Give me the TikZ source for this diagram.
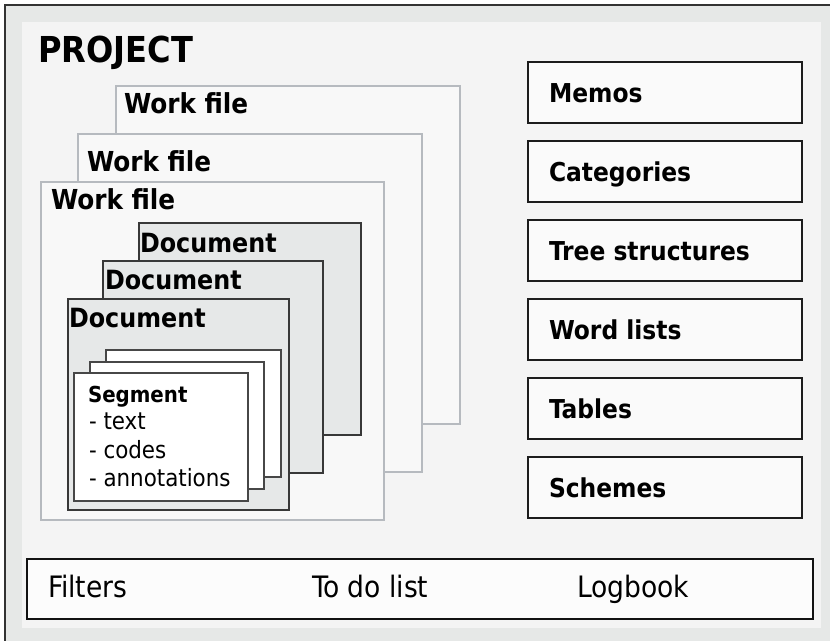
\documentclass[tikz,border=0pt]{standalone}
\usepackage{fontspec}
\setmainfont{DejaVu Sans Condensed}
\begin{document}
\begin{tikzpicture}[x=1pt,y=-1pt,
  box/.style={rectangle,outer sep=0pt,inner sep=0pt,anchor=north west},
  workbox/.style={box,draw=wfline,fill=wffill,line width=1.3pt,minimum width=344pt,minimum height=338pt},
  docbox/.style={box,draw=docline,fill=docfill,line width=1.3pt,minimum width=221pt,minimum height=212pt},
  segbox/.style={box,draw=segline,fill=white,line width=1.3pt,minimum width=175pt,minimum height=127pt},
  itembox/.style={box,draw=itemline,fill=itemfill,line width=1.8pt,minimum width=274pt,minimum height=61pt},
  lbl/.style={anchor=base west,inner sep=0pt,outer sep=0pt,text=black},
  projlbl/.style={lbl,font=\bfseries\fontsize{35.7}{40}\selectfont},
  wflbl/.style={lbl,font=\bfseries\fontsize{27.5}{30}\selectfont},
  doclbl/.style={lbl,font=\bfseries\fontsize{26.5}{30}\selectfont},
  seglbl/.style={lbl,font=\bfseries\fontsize{22}{26}\selectfont},
  seglist/.style={lbl,font=\fontsize{23.8}{26}\selectfont},
  itemlbl/.style={lbl,font=\bfseries\fontsize{26}{30}\selectfont},
  barlbl/.style={lbl,font=\fontsize{29.5}{32}\selectfont},
]
\definecolor{outerband}{HTML}{E6E8E7}
\definecolor{innerarea}{HTML}{F4F4F4}
\definecolor{frameline}{HTML}{333333}
\definecolor{wfline}{HTML}{B6BABF}
\definecolor{wffill}{HTML}{F8F8F8}
\definecolor{docline}{HTML}{383838}
\definecolor{docfill}{HTML}{E6E8E8}
\definecolor{segline}{HTML}{474747}
\definecolor{itemline}{HTML}{1C1C1C}
\definecolor{itemfill}{HTML}{FAFAFA}
\definecolor{barfill}{HTML}{FCFCFC}

\useasboundingbox (0,0) rectangle (830,640);
\clip (0,0) rectangle (830,640);

% project frame
\fill[white] (0,0) rectangle (830,640);
\draw[frameline,line width=1.5pt,fill=outerband] (5,5) rectangle (840,650);
\fill[innerarea] (22,22) rectangle (821,628);
\node[projlbl] (project) at (38,62) {PROJECT};

% work files
\node[workbox] (wf1) at (116,86) {};
\node[wflbl] (wf1t) at (124,113) {Work file};
\node[workbox] (wf2) at (78,134) {};
\node[wflbl] (wf2t) at (87,171) {Work file};
\node[workbox,minimum width=343pt] (wf3) at (41,182) {};
\node[wflbl] (wf3t) at (51,209) {Work file};

% documents
\node[docbox,minimum width=222pt] (doc1) at (139,223) {};
\node[doclbl] (doc1t) at (140,252) {Document};
\node[docbox,minimum width=220pt] (doc2) at (103,261) {};
\node[doclbl] (doc2t) at (105,289) {Document};
\node[docbox,minimum height=211pt] (doc3) at (68,299) {};
\node[doclbl] (doc3t) at (69,327) {Document};

% segments
\node[segbox] (seg1) at (106,350) {};
\node[segbox,minimum width=174pt] (seg2) at (90,362) {};
\node[segbox,minimum width=174pt,minimum height=128pt] (seg3) at (74,373) {};
\node[seglbl] (segt) at (88,402) {Segment};
\node[seglist] (segl1) at (89,429) {- text};
\node[seglist] (segl2) at (89,458) {- codes};
\node[seglist] (segl3) at (89,486) {- annotations};

% project items
\node[itembox] (memos) at (528,62) {};
\node[itemlbl] (memost) at (549,102) {Memos};
\node[itembox] (cats) at (528,141) {};
\node[itemlbl] (catst) at (549,181) {Categories};
\node[itembox] (trees) at (528,220) {};
\node[itemlbl] (treest) at (549,260) {Tree structures};
\node[itembox] (words) at (528,299) {};
\node[itemlbl] (wordst) at (549,339) {Word lists};
\node[itembox] (tables) at (528,378) {};
\node[itemlbl] (tablest) at (549,418) {Tables};
\node[itembox] (schemes) at (528,457) {};
\node[itemlbl] (schemest) at (549,497) {Schemes};

% tool bar
\node[box,draw=black!93,fill=barfill,line width=2pt,minimum width=786pt,minimum height=60pt] (bar) at (27,559) {};
\node[barlbl] (filters) at (48,597) {Filters};
\node[barlbl] (todo) at (312,597) {To do list};
\node[barlbl] (logbook) at (577,597) {Logbook};
\end{tikzpicture}
\end{document}
